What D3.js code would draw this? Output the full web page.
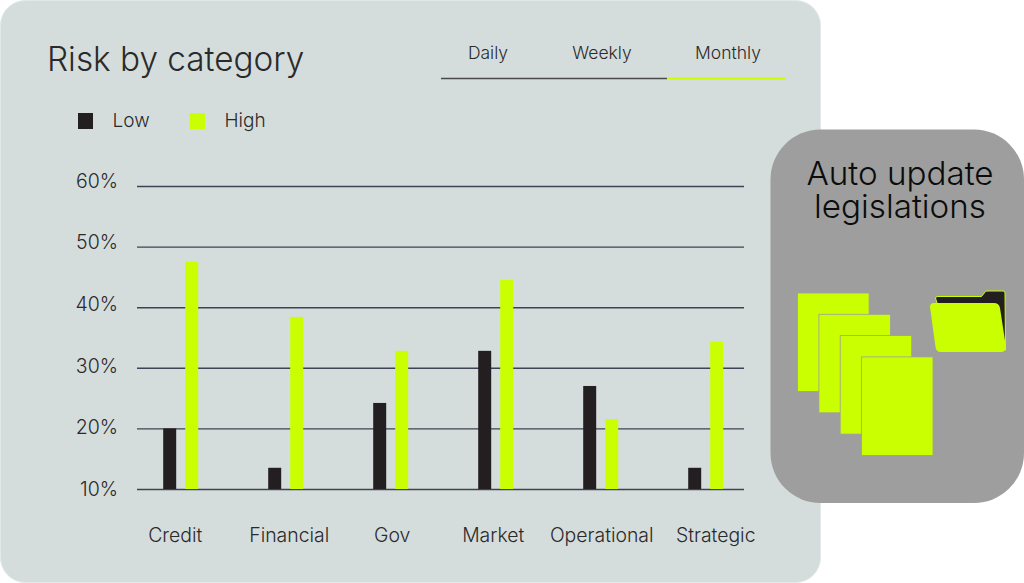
<!DOCTYPE html>
<html>
<head>
<meta charset="utf-8">
<script src="https://cdn.jsdelivr.net/npm/d3@7"></script>
<style>
    html, body { margin: 0; padding: 0; background: #fff; }
    svg { display: block; }
    text { font-family: Inter, 'Noto Sans', sans-serif; font-weight: 300; fill: #2b2a2b; }
</style>
</head>
<body>
<script>
const categories = ['Credit', 'Financial', 'Gov', 'Market', 'Operational', 'Strategic'];
const lowValues = [20, 13.5, 24.2, 32.8, 27, 13.5];
const highValues = [47.5, 38.4, 32.8, 44.5, 21.5, 34.3];
const percentTicks = [10, 20, 30, 40, 50, 60];
const seriesNames = ['Low', 'High'];
const tabs = ['Daily', 'Weekly', 'Monthly'];
const cardLines = ['Auto update', 'legislations'];

const lime = '#c9ff00';
const dark = '#231f20';
const gridColor = '#3d4354';
const width = 1024;
const height = 583;

const svg = d3.select('body').append('svg')
    .attr('width', width)
    .attr('height', height);

// main panel
svg.append('rect')
    .attr('x', 0.5).attr('y', 0.5)
    .attr('width', 820).attr('height', 582)
    .attr('rx', 25)
    .attr('fill', '#d5dddc')
    .attr('stroke', '#e2e8e7');

svg.append('text')
    .attr('x', 47).attr('y', 71)
    .style('font-size', '33.3px')
    .text('Risk by category');

// tabs
const tabCenters = [488, 602, 728];
svg.selectAll('.tab').data(tabs).join('text')
    .attr('class', 'tab')
    .attr('x', (d, i) => tabCenters[i])
    .attr('y', 59)
    .attr('text-anchor', 'middle')
    .style('font-size', '17.5px')
    .text(d => d);
svg.append('line')
    .attr('x1', 441).attr('x2', 667).attr('y1', 78.5).attr('y2', 78.5)
    .attr('stroke', '#4a4a4a').attr('stroke-width', 1.5);
svg.append('line')
    .attr('x1', 667).attr('x2', 786).attr('y1', 78.5).attr('y2', 78.5)
    .attr('stroke', lime).attr('stroke-width', 2);

// legend
const legendX = [78, 190];
const legend = svg.selectAll('.legend').data(seriesNames).join('g')
    .attr('class', 'legend')
    .attr('transform', (d, i) => `translate(${legendX[i]},113)`);
legend.append('rect')
    .attr('width', 15).attr('height', 16)
    .attr('fill', (d, i) => i ? lime : dark);
legend.append('text')
    .attr('x', 34.5).attr('y', 14)
    .style('font-size', '19px')
    .text(d => d);

// scales
const y = d3.scaleLinear().domain([10, 60]).range([489, 186]);
const labelY = d3.scaleLinear().domain([10, 60]).range([489, 181]);
const x = d3.scaleBand().domain(categories).range([128.2, 758.2]);
const barWidth = 13;
const barGap = 9;

// gridlines
const grid = svg.append('g')
    .attr('transform', 'translate(137,0)')
    .call(d3.axisLeft(y).tickValues(percentTicks).tickSize(-607).tickFormat(''));
grid.select('.domain').remove();
grid.selectAll('line').attr('stroke', gridColor).attr('stroke-width', 1.4);

// y labels sit a little off the gridlines in the original
const yLabels = svg.append('g')
    .attr('transform', 'translate(118,0)')
    .call(d3.axisLeft(labelY).tickValues(percentTicks).tickSize(0).tickPadding(0).tickFormat(d => d + '%'));
yLabels.select('.domain').remove();
yLabels.selectAll('text').style('font-size', '19.5px').attr('fill', null);

// bars
const groups = svg.selectAll('.group').data(categories).join('g')
    .attr('class', 'group')
    .attr('transform', d => `translate(${x(d) + x.bandwidth() / 2},0)`);
groups.append('rect')
    .attr('x', -(barWidth + barGap / 2))
    .attr('y', (d, i) => y(lowValues[i]))
    .attr('width', barWidth)
    .attr('height', (d, i) => y(10) - y(lowValues[i]))
    .attr('fill', dark);
groups.append('rect')
    .attr('x', barGap / 2)
    .attr('y', (d, i) => y(highValues[i]))
    .attr('width', barWidth)
    .attr('height', (d, i) => y(10) - y(highValues[i]))
    .attr('fill', lime);

// x labels, nudged per category
const labelShift = [-5.5, 3.5, 1.5, -2.5, 1, 10];
const xAxis = svg.append('g')
    .attr('transform', 'translate(0,542)')
    .call(d3.axisBottom(x).tickSize(0).tickPadding(0));
xAxis.select('.domain').remove();
xAxis.selectAll('text')
    .attr('dy', 0)
    .attr('y', 0)
    .attr('x', (d, i) => labelShift[i])
    .attr('fill', null)
    .style('font-size', '19.4px');

// side card
svg.append('rect')
    .attr('x', 770.5).attr('y', 129.5)
    .attr('width', 253.5).attr('height', 373.5)
    .attr('rx', 50)
    .attr('fill', '#9e9e9e');

svg.append('text')
    .attr('text-anchor', 'middle')
    .style('font-size', '33.2px')
    .style('fill', '#0c0c0c')
    .selectAll('tspan').data(cardLines).join('tspan')
    .attr('x', 900)
    .attr('y', (d, i) => 185 + i * 33)
    .text(d => d);

// stacked documents
const docOffsets = [0, 1, 2, 3];
svg.selectAll('.doc').data(docOffsets).join('rect')
    .attr('class', 'doc')
    .attr('x', d => 797.6 + d * 21.3)
    .attr('y', d => 293 + d * 21.3)
    .attr('width', 71.5)
    .attr('height', 98.5)
    .attr('fill', lime)
    .attr('stroke', '#9e9e9e')
    .attr('stroke-width', 0.8);

// folder icon
svg.append('path')
    .attr('d', 'M937,303 L935.5,298 Q935.5,296.5 938,296.5 L981.5,296.5 L985.5,291.5 Q986,291 988,291 L1003,291 Q1005,291 1005,293 L1005.5,350 Z')
    .attr('fill', dark)
    .attr('stroke', lime)
    .attr('stroke-width', 1);
svg.append('path')
    .attr('d', 'M930,307 Q930,303 934,303 L994,303 Q999,303 1000,308 L1005.5,344 L1005.5,348 Q1005.5,352 1001,352 L941,352 Q936,352 935.5,347 Z')
    .attr('fill', lime);
</script>
</body>
</html>
